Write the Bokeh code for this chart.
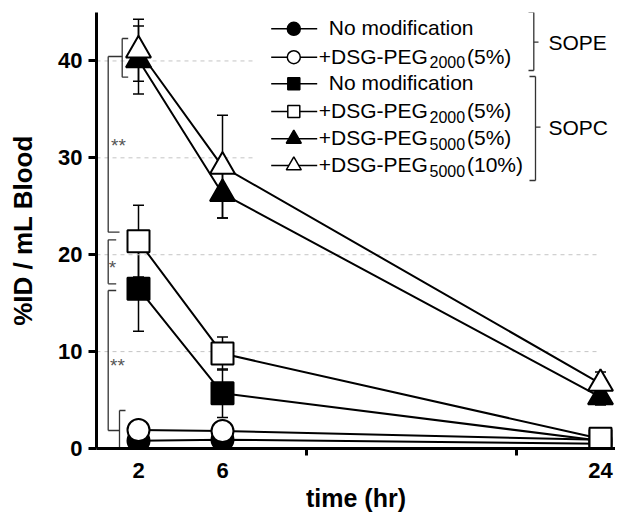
import math
from bokeh.plotting import figure
from bokeh.models import FixedTicker, Whisker, TeeHead, ColumnDataSource, Range1d, Title
from bokeh.embed import file_html
from bokeh.resources import INLINE
from bokeh.core.properties import value

# ---------------- data ----------------
time_hr = [2, 6, 24]

sope_none = [0.8, 0.9, 0.5]
sope_none_sd = [0.2, 0.2, 0.1]
sope_peg2000 = [1.9, 1.8, 0.9]
sope_peg2000_sd = [0.3, 0.3, 0.1]
sopc_none = [16.5, 5.7, 0.8]
sopc_none_sd = [4.4, 2.5, 0.2]
sopc_peg2000 = [21.4, 9.8, 1.0]
sopc_peg2000_sd = [3.7, 1.7, 0.2]
sopc_peg5000_5 = [40.1, 26.3, 5.3]
sopc_peg5000_5_sd = [3.5, 2.5, 0.8]
sopc_peg5000_10 = [41.1, 29.1, 6.7]
sopc_peg5000_10_sd = [3.2, 5.3, 1.2]

y_ticks = [0, 10, 20, 30, 40]
x_ticks = [2, 6, 24]
x_minor_ticks = [10, 20]

legend_main = ["No modification", "+DSG-PEG", "No modification", "+DSG-PEG", "+DSG-PEG", "+DSG-PEG"]
legend_sub = ["", "2000", "", "2000", "5000", "5000"]
legend_suffix = ["", "(5%)", "", "(5%)", "(5%)", "(10%)"]
group_labels = ["SOPE", "SOPC"]
sig_labels = ["**", "*", "**"]

series_values = [sope_none, sope_peg2000, sopc_none, sopc_peg2000, sopc_peg5000_5, sopc_peg5000_10]
series_sd = [sope_none_sd, sope_peg2000_sd, sopc_none_sd, sopc_peg2000_sd, sopc_peg5000_5_sd, sopc_peg5000_10_sd]
series_marker = ["circle", "circle", "square", "square", "triangle", "triangle"]
series_fill = ["black", "white", "black", "white", "black", "white"]

# ---------------- layout helpers ----------------
W, H = 615, 514
BL, BR, BT, BB = 96, 0, 12, 66
FW = W - BL - BR
FH = H - BT - BB
Y_MAX = 45
PX_PER_X = 21.0
X_MAX = FW / PX_PER_X
PX_PER_Y = FH / Y_MAX
FONT = "Liberation Sans"


def dx(px):  # picture pixel -> data x
    return (px - BL) / PX_PER_X


def dy(py):  # picture pixel -> data y
    return (BT + FH - py) / PX_PER_Y


p = figure(width=W, height=H, x_range=Range1d(0, X_MAX), y_range=Range1d(0, Y_MAX),
           output_backend="svg", toolbar_location=None,
           min_border_left=BL, min_border_right=BR, min_border_top=BT, min_border_bottom=BB)
p.outline_line_color = None
p.xgrid.visible = False
p.ygrid.visible = False
p.background_fill_color = "white"
p.border_fill_color = "white"

# axes
p.yaxis.ticker = FixedTicker(ticks=y_ticks, minor_ticks=[])
p.xaxis.ticker = FixedTicker(ticks=x_ticks, minor_ticks=x_minor_ticks)
for ax in (p.xaxis, p.yaxis):
    ax.axis_line_width = 3
    ax.axis_line_color = "black"
    ax.major_label_text_font = FONT
    ax.major_label_text_font_style = "bold"
    ax.major_label_text_font_size = "22px"
    ax.major_label_text_color = "black"
    ax.major_tick_in = 0
p.yaxis.major_tick_out = 8
p.yaxis.major_tick_line_width = 3
p.yaxis.minor_tick_line_color = None
p.yaxis.major_label_standoff = 6
p.yaxis.axis_label = "%ID / mL Blood"
p.yaxis.axis_label_text_font = FONT
p.yaxis.axis_label_text_font_style = "bold"
p.yaxis.axis_label_text_font_size = "26px"
p.yaxis.axis_label_text_color = "black"
p.yaxis.axis_label_standoff = 17
p.xaxis.major_tick_out = 0
p.xaxis.major_tick_line_color = None
p.xaxis.minor_tick_in = 0
p.xaxis.minor_tick_out = 7
p.xaxis.minor_tick_line_width = 3
p.xaxis.minor_tick_line_color = "black"
p.xaxis.major_label_standoff = 7

p.add_layout(Title(text="time (hr)", align="center", offset=-24.5, standoff=3,
                   text_font=FONT, text_font_size="25px", text_font_style="bold",
                   text_color="black"), "below")

# dashed gridlines (upper ones stop before the legend area)
grid_y = [v for v in y_ticks if v > 0]
grid_x1 = [dx(597) if v < 25 else dx(253) for v in grid_y]
p.segment(x0=[0] * len(grid_y), y0=grid_y, x1=grid_x1, y1=grid_y,
          line_color="#c4c4c4", line_width=1, line_dash="4 4")

# error bars
for vals, sd in zip(series_values, series_sd):
    src = ColumnDataSource(dict(base=time_hr,
                                upper=[v + s for v, s in zip(vals, sd)],
                                lower=[v - s for v, s in zip(vals, sd)]))
    w = Whisker(source=src, base="base", upper="upper", lower="lower", dimension="height",
                line_width=1.5, line_color="black", level="underlay",
                upper_head=TeeHead(size=11, line_width=1.5, line_color="black"),
                lower_head=TeeHead(size=11, line_width=1.5, line_color="black"))
    p.add_layout(w)

# lines
for vals in series_values:
    p.line(time_hr, vals, line_color="black", line_width=2)

main_size = {"circle": 22, "square": 22, "triangle": 25}
leg_size = {"circle": 13, "square": 12, "triangle": 15}

for vals, mk, fc in zip(series_values, series_marker, series_fill):
    p.scatter(time_hr, vals, marker=mk, size=main_size[mk], fill_color=fc,
              line_color="black", line_width=2)

# ---------------- significance brackets ----------------
br_col = "#333333"
bx = dx(107.7)
ax_ = dx(121.7)
brx0 = [ax_, ax_, ax_, bx, bx, bx, bx, bx, bx, bx, bx, dx(119), bx, dx(119)]
bry0 = [dy(38), dy(38), dy(76.7), dy(56), dy(56), dy(231.7), dy(239.3), dy(239.3), dy(283.3),
        dy(290), dy(290), dy(410), dy(430), dy(410)]
brx1 = [ax_, dx(127.7), dx(127.7), bx, ax_, dx(119), bx, dx(115.7), dx(115.7),
        bx, dx(115.7), dx(119), dx(119), dx(125)]
bry1 = [dy(76.7), dy(38), dy(76.7), dy(231.7), dy(56), dy(231.7), dy(283.3), dy(239.3), dy(283.3),
        dy(430), dy(290), dy(448), dy(430), dy(410)]
p.segment(x0=brx0, y0=bry0, x1=brx1, y1=bry1, line_color=br_col, line_width=1.3)
p.text(x=[dx(118), dx(112), dx(117)], y=[dy(145), dy(267), dy(365)], text=sig_labels,
       text_font=value(FONT), text_font_size="19px", text_color="#555555",
       text_align="center", text_baseline="middle")

# ---------------- legend ----------------
row_py = [28.3, 56.7, 83.3, 111, 138.3, 165]
leg_y = [dy(v) for v in row_py]
p.segment(x0=[dx(270.7)] * 6, y0=leg_y, x1=[dx(316.7)] * 6, y1=leg_y,
          line_color="black", line_width=1.5)
for yy, mk, fc in zip(leg_y, series_marker, series_fill):
    p.scatter([dx(293.3)], [yy], marker=mk, size=leg_size[mk], fill_color=fc,
              line_color="black", line_width=1.5)

main_x = [dx(328.3) if s == "" else dx(318.3) for s in legend_sub]
p.text(x=main_x, y=[dy(v - 1) for v in row_py], text=legend_main,
       text_font=value(FONT), text_font_size="21px", text_color="black",
       text_align="left", text_baseline="middle")
sub_idx = [i for i, s in enumerate(legend_sub) if s]
p.text(x=[dx(429)] * len(sub_idx), y=[dy(row_py[i] + 5) for i in sub_idx],
       text=[legend_sub[i] for i in sub_idx],
       text_font=value(FONT), text_font_size="16px", text_color="black",
       text_align="left", text_baseline="middle")
p.text(x=[dx(466.5)] * len(sub_idx), y=[dy(row_py[i] - 1) for i in sub_idx],
       text=[legend_suffix[i] for i in sub_idx],
       text_font=value(FONT), text_font_size="21px", text_color="black",
       text_align="left", text_baseline="middle")

# group brackets
gx0 = [dx(533.3), dx(528), dx(528), dx(533.3), dx(535), dx(529), dx(529), dx(535)]
gy0 = [dy(11.7), dy(11.7), dy(70), dy(41.7), dy(76), dy(76), dy(180), dy(126.7)]
gx1 = [dx(533.3), dx(533.3), dx(533.3), dx(538), dx(535), dx(535), dx(535), dx(540)]
gy1 = [dy(70), dy(11.7), dy(70), dy(41.7), dy(180), dy(76), dy(180), dy(126.7)]
p.segment(x0=gx0, y0=gy0, x1=gx1, y1=gy1, line_color=br_col, line_width=1.3)
p.text(x=[dx(548), dx(548)], y=[dy(41.7), dy(126.7)], text=group_labels,
       text_font=value(FONT), text_font_size="21px", text_color="black",
       text_align="left", text_baseline="middle")

open("out.html", "w").write(file_html(p, INLINE))
